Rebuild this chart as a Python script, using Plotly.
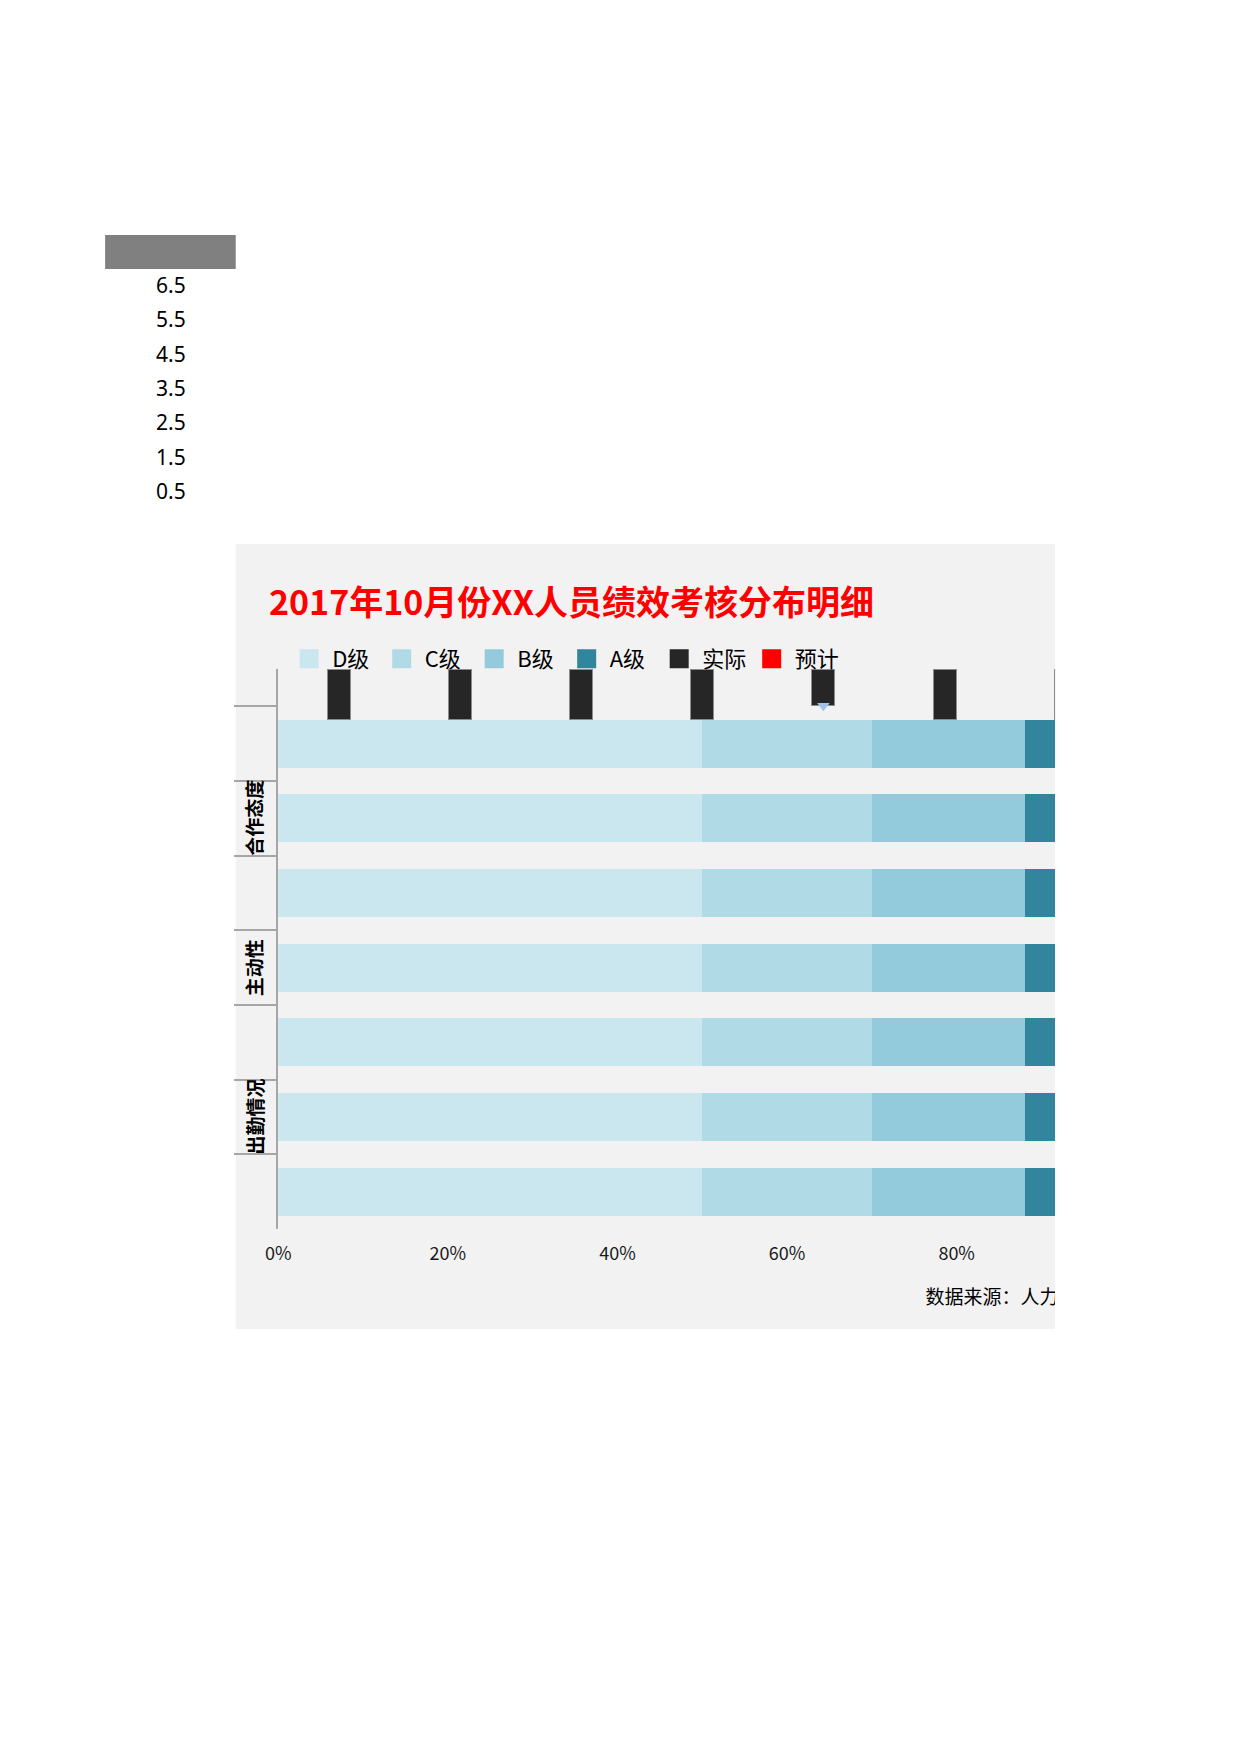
import plotly.graph_objects as go

# rows of the chart, top to bottom
rows = ["行1", "行2", "行3", "行4", "行5", "行6", "行7"]
group_labels = ["合作态度", "主动性", "出勤情况"]
group_rows = ["行2", "行4", "行6"]

grades = ["D级", "C级", "B级", "A级"]
grade_values = {
    "D级": [50, 50, 50, 50, 50, 50, 50],
    "C级": [20, 20, 20, 20, 20, 20, 20],
    "B级": [18, 18, 18, 18, 18, 18, 18],
    "A级": [12, 12, 12, 12, 12, 12, 12],
}
grade_colors = {"D级": "#CAE6EE", "C级": "#B0DAE6", "B级": "#94CBDC", "A级": "#31859C"}

col_pos = [0.5, 1.5, 2.5, 3.5, 4.5, 5.5, 6.5]
actual = [1, 1, 1, 1, 0.72, 1, 1]

side_labels = ["6.5", "5.5", "4.5", "3.5", "2.5", "1.5", "0.5"]
x_ticks = [0, 20, 40, 60, 80]
x_ticktext = ["0%", "20%", "40%", "60%", "80%"]
source_text = "数据来源：人力资源部"

FONT = "Noto Sans CJK SC"
W, H = 1240, 1754


def px(x):
    return x / W


def py(y):
    return 1 - y / H


panel_x = [217, 1045]
panel_y = [536, 1321]
dom_x = [px(260), px(1045)]
dom_y = [py(1221), py(661)]

fig = go.Figure()

# legend entries
for g in grades:
    fig.add_trace(go.Scatter(x=[None], y=[None], mode="markers", name=g,
                             marker=dict(symbol="square", size=16, color=grade_colors[g],
                                         line=dict(color=grade_colors[g], width=3))))
fig.add_trace(go.Scatter(x=[None], y=[None], mode="markers", name="实际",
                         marker=dict(symbol="square", size=16, color="#262626",
                                     line=dict(color="#262626", width=3))))
fig.add_trace(go.Scatter(x=[None], y=[None], mode="markers", name="预计",
                         marker=dict(symbol="square", size=16, color="#FF0000",
                                     line=dict(color="#FF0000", width=3))))

for g in grades:
    fig.add_trace(go.Bar(y=rows, x=grade_values[g], orientation="h", name=g,
                         marker=dict(color=grade_colors[g], line=dict(width=0)),
                         showlegend=False, hoverinfo="skip"))

# little marker under the 5th column
fig.add_trace(go.Scatter(x=[col_pos[4]], y=[actual[4]], xaxis="x2", yaxis="y2",
                         mode="markers", showlegend=False, hoverinfo="skip",
                         marker=dict(symbol="triangle-down", size=11, color="#9DC3E6")))

fig.add_trace(go.Bar(x=col_pos, y=actual, xaxis="x2", yaxis="y2", name="实际",
                     width=0.19, showlegend=False, hoverinfo="skip",
                     marker=dict(color="#262626", line=dict(color="#8C8C8C", width=1))))

# source note, clipped by the panel edge like the original
src_x = (914 - panel_x[0]) / (panel_x[1] - panel_x[0])
src_y = (panel_y[1] - 1291) / (panel_y[1] - panel_y[0])
fig.add_trace(go.Scatter(x=[src_x], y=[src_y], xaxis="x3", yaxis="y3",
                         mode="text", text=[source_text], textposition="middle right",
                         textfont=dict(family=FONT, size=19, color="#000000"),
                         showlegend=False, hoverinfo="skip", cliponaxis=True))

fig.update_layout(
    width=W, height=H,
    margin=dict(l=0, r=0, t=0, b=0),
    paper_bgcolor="white",
    plot_bgcolor="rgba(0,0,0,0)",
    barmode="stack",
    bargap=0.36,
    font=dict(family=FONT, color="#000000"),
    xaxis=dict(domain=dom_x, range=[0, 91.6], tickvals=x_ticks, ticktext=x_ticktext,
               showgrid=False, zeroline=False, showline=False, ticks="",
               ticklabelstandoff=12, tickfont=dict(size=18, color="#1A1A1A"),
               fixedrange=True),
    yaxis=dict(domain=dom_y, type="category", categoryorder="array", categoryarray=rows,
               range=[6.5, -1.0], showticklabels=False, showgrid=False, zeroline=False,
               showline=True, linecolor="#A6A6A6", linewidth=1.5,
               ticks="outside", tickson="boundaries", ticklen=43,
               tickcolor="#A6A6A6", tickwidth=1.5),
    xaxis2=dict(overlaying="x", range=[0, 6.412], visible=False),
    yaxis2=dict(overlaying="y", range=[11, 0], visible=False),
    xaxis3=dict(domain=[px(panel_x[0]), px(panel_x[1])], anchor="y3", range=[0, 1], visible=False),
    yaxis3=dict(domain=[py(panel_y[1]), py(panel_y[0])], anchor="x3", range=[0, 1], visible=False),
    legend=dict(orientation="h", x=px(268), y=py(651), xanchor="left", yanchor="middle",
                font=dict(size=22, color="#000000"), bgcolor="rgba(0,0,0,0)",
                itemwidth=36, entrywidth=41.5, entrywidthmode="pixels", itemclick=False,
                traceorder="normal", tracegroupgap=0),
    showlegend=True,
)

# chart panel and header cell
fig.add_shape(type="rect", xref="paper", yref="paper", x0=px(panel_x[0]), x1=px(panel_x[1]),
              y0=py(panel_y[1]), y1=py(panel_y[0]), fillcolor="#F2F2F2", line=dict(width=0), layer="below")
fig.add_shape(type="rect", xref="paper", yref="paper", x0=px(85), x1=px(217),
              y0=py(261), y1=py(227), fillcolor="#808080", line=dict(width=0), layer="below")

for i, t in enumerate(side_labels):
    fig.add_annotation(x=px(151.5), y=py(277 + i * 34.3), xref="paper", yref="paper",
                       xanchor="center", yanchor="middle",
                       text=t, showarrow=False, font=dict(family="Noto Sans", size=21, color="#000000"))

fig.add_annotation(x=px(249), y=py(593), xref="paper", yref="paper", xanchor="left", yanchor="middle",
                   text="<b>2017年10月份XX人员绩效考核分布明细</b>", showarrow=False,
                   font=dict(family=FONT, size=34, color="#FF0000"))

for lab, r in zip(group_labels, group_rows):
    fig.add_annotation(x=px(235), y=r, xref="paper", yref="y", text="<b>" + lab + "</b>",
                       xanchor="center", yanchor="middle",
                       textangle=-90, showarrow=False,
                       font=dict(family=FONT, size=19, color="#000000"))

fig.write_html("out.html")
